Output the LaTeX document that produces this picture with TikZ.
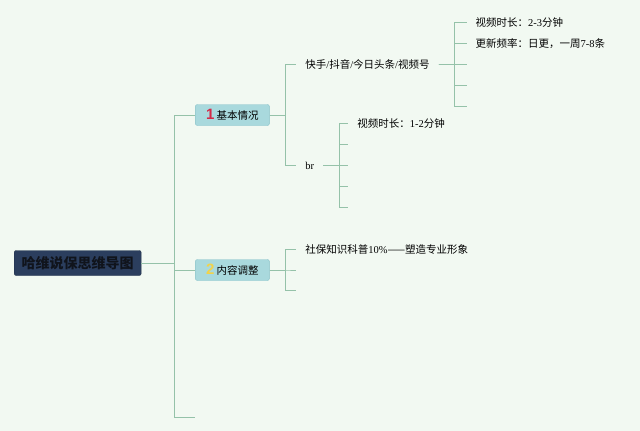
\documentclass[tikz,border=0pt]{standalone}
\usepackage{fontspec}
\usepackage{xcolor}
\usetikzlibrary{trees}
\setmainfont{Liberation Serif}
\newfontfamily\cjk{Noto Sans CJK SC}
\newfontfamily\numfont{Liberation Sans}
\definecolor{paper}{HTML}{F2F9F2}
\definecolor{branch}{HTML}{95C2A9}
\definecolor{topicfill}{HTML}{A9D9DD}
\definecolor{topicdraw}{HTML}{86C1C8}
\definecolor{rootfill}{HTML}{2B3E5E}
\definecolor{rootink}{HTML}{10141C}
\definecolor{onered}{HTML}{D42A48}
\definecolor{twoyellow}{HTML}{F2D34A}
\newcommand\en[1]{{\rmfamily #1}}
\newcommand\topicnum[2]{{\numfont\bfseries\fontsize{15}{15}\selectfont\color{#1}#2}}

\begin{document}
\begin{tikzpicture}[x=1pt, y=1pt, grow'=right,
    rootbox/.style = {shape=rectangle, rounded corners=2pt,
      fill=rootfill, draw=rootfill!80!black, text=rootink, anchor=west,
      minimum width=127pt, minimum height=25pt, inner sep=0pt,
      font=\cjk\bfseries\fontsize{14}{16}\selectfont},
    topic/.style = {shape=rectangle, rounded corners=2pt,
      fill=topicfill, draw=topicdraw, anchor=west,
      minimum width=74pt, minimum height=21pt, inner sep=0pt,
      font=\cjk\fontsize{10.5}{12}\selectfont},
    leaf/.style = {anchor=west, inner sep=3pt, outer sep=6pt,
      font=\cjk\fontsize{10.5}{12}\selectfont},
    elbow/.style = {edge from parent path =
      {(\tikzparentnode.east) -- ++(#1,0) |- (\tikzchildnode)}},
    edge from parent/.style = {draw=branch, line width=0.8pt},
    level 1/.style = {level distance=117.5pt, sibling distance=151pt, elbow=33pt},
    level 2/.style = {level distance=64pt, sibling distance=101pt, elbow=16pt},
    level 3/.style = {level distance=99pt, sibling distance=21pt, elbow=16pt}]
  \fill[paper] (0,0) rectangle (640,-431);
  \useasboundingbox (0,0) rectangle (640,-431);
  \node[rootbox] (root) at (14,-263) {哈维说保思维导图}
    child[yshift=-3pt] {node[topic] (basic) {\topicnum{onered}{1} 基本情况}
      child {node[leaf] (platform) {快手\en{/}抖音\en{/}今日头条\en{/}视频号}
        child {node[leaf] (duration) {视频时长：\en{2-3}分钟}}
        child {node[leaf] (frequency) {更新频率：日更，一周\en{7-8}条}}
        child foreach \k in {3,4,5} {coordinate (platform\k)}}
      child {node[leaf] (br) {\en{br}}
        child[level distance=38.5pt] {node[leaf] (brduration) {视频时长：\en{1-2}分钟}}
        child[level distance=38.5pt] foreach \k in {2,...,5} {coordinate (br\k)}}}
    child[yshift=-7pt] {node[topic] (adjust) {\topicnum{twoyellow}{2} 内容调整}
      child[sibling distance=20.5pt] {node[leaf] (science) {社保知识科普\en{10\%}——塑造专业形象}}
      child[sibling distance=20.5pt] foreach \k in {2,3} {coordinate (adjust\k)}}
    child[yshift=-3pt] {coordinate (spare)};
\end{tikzpicture}
\end{document}
